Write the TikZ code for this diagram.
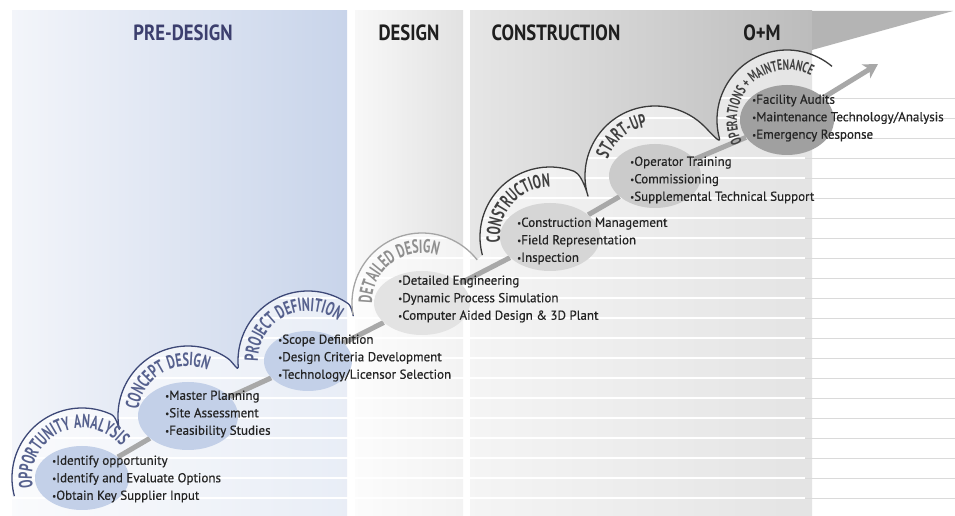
\documentclass[tikz,border=0pt]{standalone}
\usepackage{fontspec}
\setmainfont{PT Sans}[FakeBold=0.6]
\newfontfamily\itemfont[FakeBold=0.5]{PT Sans}
\newfontfamily\lblfont[FakeStretch=0.64]{PT Sans}
\newfontfamily\headfont[FakeStretch=0.85]{PT Sans}
\usetikzlibrary{shapes.geometric,arrows.meta,decorations.text,calc}

% palette
\definecolor{pdL}{HTML}{F3F5FA}
\definecolor{pdR}{HTML}{C8D4EA}
\definecolor{dsL}{HTML}{F8F8F8}
\definecolor{dsR}{HTML}{E2E2E2}
\definecolor{csL}{HTML}{E6E6E6}
\definecolor{csR}{HTML}{BCBCBC}
\definecolor{wedgegray}{HTML}{B4B4B4}
\definecolor{headnavy}{HTML}{3C3F6E}
\definecolor{headdark}{HTML}{1E1E1E}
\definecolor{ballblue}{HTML}{C3D0E8}
\definecolor{ballA}{HTML}{E3E3E3}
\definecolor{ballB}{HTML}{D6D6D6}
\definecolor{ballC}{HTML}{CBCBCB}
\definecolor{ballD}{HTML}{A0A0A0}
\definecolor{wavenavy}{HTML}{3D4877}
\definecolor{wavelight}{HTML}{A5A5A5}
\definecolor{wavedark}{HTML}{3A3A3A}
\definecolor{lblblue}{HTML}{56618E}
\definecolor{lbllight}{HTML}{8F8F8F}
\definecolor{lbldark}{HTML}{404040}
\definecolor{bodytext}{HTML}{242424}
\definecolor{rulegray}{HTML}{DADADA}
\definecolor{bargray}{HTML}{A8A8A8}

\newcommand\lblBlue{\lblfont\bfseries\fontsize{19}{19}\selectfont\color{lblblue}}
\newcommand\lblLight{\lblfont\bfseries\fontsize{19}{19}\selectfont\color{lbllight}}
\newcommand\lblDark{\lblfont\bfseries\fontsize{19}{19}\selectfont\color{lbldark}}
\newcommand\lblSmall{\lblfont\bfseries\fontsize{15}{15}\selectfont\color{lbldark}}
\newcommand\bul{{\fontsize{9}{9}\selectfont\raisebox{0.6pt}{•}}}

\pgfdeclarelayer{bg}
\pgfsetlayers{bg,main}

\tikzset{
  ball/.style={ellipse, fill=#1, draw=none, inner sep=0pt},
  items/.style={anchor=west, align=left, inner sep=0pt,
    font=\itemfont\fontsize{13}{17.5}\selectfont, text=bodytext},
  phase/.style={font=\headfont\bfseries\fontsize{22}{22}\selectfont},
  bar/.style={draw=bargray, line width=5pt},
  wavestroke/.style={draw=#1, line width=1.3pt, line join=round},
  arclabel/.style={decorate, decoration={text along path, text={#1}, text align=center}}
}

% closed region under the wavy band outline
\def\waveregion{(0,0) -- (0,20)
  -- ($(c1)+(195:70pt)$) arc[start angle=195,end angle=65,radius=70pt]
  to[out=-25,in=280] ($(c2)+(190:70pt)$) arc[start angle=190,end angle=55,radius=70pt]
  to[out=-35,in=275] ($(c3)+(185:70pt)$) arc[start angle=185,end angle=55,radius=70pt]
  to[out=-35,in=280] ($(c4)+(190:70pt)$) arc[start angle=190,end angle=38,radius=70pt]
  -- ($(c5)+(195:70pt)$) arc[start angle=195,end angle=70,radius=70pt]
  to[out=-20,in=285] ($(c6)+(195:70pt)$) arc[start angle=195,end angle=45,radius=70pt]
  to[out=-45,in=285] ($(c7)+(195:70pt)$) arc[start angle=195,end angle=50,radius=70pt]
  -- (955,449) -- (955,0) -- cycle}

\begin{document}
\begin{tikzpicture}[x=1pt,y=1pt]
\useasboundingbox (0,0) rectangle (955,516);

% stage centres
\coordinate (c1) at (82,38);
\coordinate (c2) at (188,100);
\coordinate (c3) at (308,155);
\coordinate (c4) at (422,213);
\coordinate (c5) at (550,279);
\coordinate (c6) at (655,340);
\coordinate (c7) at (787,396);
\coordinate (tip) at (878,452);

\begin{pgfonlayer}{bg}
  \fill[white] (0,0) rectangle (955,516);
  % phase panels
  \shade[left color=pdL, right color=pdR] (12,0) rectangle (347,505);
  \shade[left color=dsL, right color=dsR] (355,0) rectangle (463,505);
  \shade[left color=csL, right color=csR] (470,0) rectangle (812,505);
  \fill[wedgegray] (812,505) -- (953,505) -- (812,466) -- cycle;
  % lighter area below the band
  \fill[white, opacity=0.6] \waveregion;
  % ruled lines below the band
  \begin{scope}
    \clip \waveregion;
    \foreach \k in {0,...,20} {
      \draw[white, line width=1.4pt] (12,418-20*\k) -- (805,418-20*\k);
      \draw[rulegray, line width=0.8pt] (805,418-20*\k) -- (955,418-20*\k);
    }
  \end{scope}
  % band outlines
  \draw[wavestroke=wavenavy]
    ($(c1)+(195:70pt)$) arc[start angle=195,end angle=65,radius=70pt]
    to[out=-25,in=280] ($(c2)+(190:70pt)$) arc[start angle=190,end angle=55,radius=70pt]
    to[out=-35,in=275] ($(c3)+(185:70pt)$) arc[start angle=185,end angle=55,radius=70pt]
    to[out=-35,in=280] ($(c4)+(190:70pt)$);
  \draw[wavestroke=wavelight]
    ($(c4)+(190:70pt)$) arc[start angle=190,end angle=38,radius=70pt];
  \draw[wavestroke=wavedark]
    ($(c5)+(195:70pt)$) arc[start angle=195,end angle=70,radius=70pt]
    to[out=-20,in=285] ($(c6)+(195:70pt)$) arc[start angle=195,end angle=45,radius=70pt]
    to[out=-45,in=285] ($(c7)+(195:70pt)$) arc[start angle=195,end angle=50,radius=70pt];
\end{pgfonlayer}

% stage discs
\node[ball=ballblue, minimum width=94pt, minimum height=64pt] (s1) at (c1) {};
\node[ball=ballblue, minimum width=100pt, minimum height=68pt] (s2) at (c2) {};
\node[ball=ballblue, minimum width=88pt, minimum height=60pt] (s3) at (c3) {};
\node[ball=ballA, minimum width=96pt, minimum height=64pt] (s4) at (c4) {};
\node[ball=ballB, minimum width=100pt, minimum height=68pt] (s5) at (c5) {};
\node[ball=ballC, minimum width=92pt, minimum height=64pt] (s6) at (c6) {};
\node[ball=ballD, minimum width=94pt, minimum height=70pt] (s7) at (c7) {};

% progress arrow behind the discs
\begin{pgfonlayer}{bg}
  \draw[bar] (s1) -- (s2);
  \draw[bar] (s2) -- (s3);
  \draw[bar] (s3) -- (s4);
  \draw[bar] (s4) -- (s5);
  \draw[bar] (s5) -- (s6);
  \draw[bar] (s6) -- (s7);
  \draw[bar, -{Stealth[length=14pt,width=16pt,inset=4pt]}] (s7) -- (tip);
\end{pgfonlayer}

% curved stage names
\path[arclabel={|\lblBlue|OPPORTUNITY ANALYSIS}]
  ($(c1)+(225:50pt)$) arc[start angle=225,end angle=5,radius=50pt];
\path[arclabel={|\lblBlue|CONCEPT DESIGN}]
  ($(c2)+(230:50pt)$) arc[start angle=230,end angle=10,radius=50pt];
\path[arclabel={|\lblBlue|PROJECT DEFINITION}]
  ($(c3)+(227:50pt)$) arc[start angle=227,end angle=7,radius=50pt];
\path[arclabel={|\lblLight|DETAILED DESIGN}]
  ($(c4)+(236:50pt)$) arc[start angle=236,end angle=16,radius=50pt];
\path[arclabel={|\lblDark|CONSTRUCTION}]
  ($(c5)+(248:50pt)$) arc[start angle=248,end angle=28,radius=50pt];
\path[arclabel={|\lblDark|START-UP}]
  ($(c6)+(240:50pt)$) arc[start angle=240,end angle=20,radius=50pt];
\path[arclabel={|\lblSmall|OPERATIONS + MAINTENANCE}]
  ($(c7)+(244:50pt)$) arc[start angle=244,end angle=24,radius=50pt];

% stage activities
\node[items] (t1) at (52,37) {\bul Identify opportunity\\\bul Identify and Evaluate Options\\\bul Obtain Key Supplier Input};
\node[items] (t2) at (165,102) {\bul Master Planning\\\bul Site Assessment\\\bul Feasibility Studies};
\node[items] (t3) at (278,158) {\bul Scope Definition\\\bul Design Criteria Development\\\bul Technology/Licensor Selection};
\node[items] (t4) at (398,217) {\bul Detailed Engineering\\\bul Dynamic Process Simulation\\\bul Computer Aided Design \& 3D Plant};
\node[items] (t5) at (517,275) {\bul Construction Management\\\bul Field Representation\\\bul Inspection};
\node[items] (t6) at (630,336) {\bul Operator Training\\\bul Commissioning\\\bul Supplemental Technical Support};
\node[items] (t7) at (752,398) {\bul Facility Audits\\\bul Maintenance Technology/Analysis\\\bul Emergency Response};

% phase headings
\node[phase, text=headnavy] (h1) at (183,483) {PRE-DESIGN};
\node[phase, text=headdark] (h2) at (409,483) {DESIGN};
\node[phase, text=headdark] (h3) at (556,483) {CONSTRUCTION};
\node[phase, text=headdark] (h4) at (762,483) {O+M};
\end{tikzpicture}
\end{document}
